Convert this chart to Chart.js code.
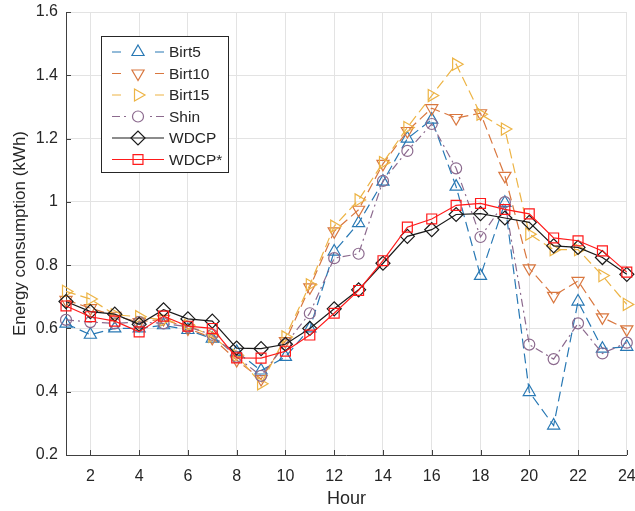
<!DOCTYPE html>
<html>
<head>
  <meta charset="UTF-8">
  <title>Energy consumption</title>
  <script src="https://cdn.jsdelivr.net/npm/chart.js"></script>
  <style>
    html, body { margin: 0; padding: 0; background: #fff; }
    #chart-container { width: 635px; height: 511px; }
  </style>
</head>
<body>
  <div id="chart-container">
    <canvas id="myChart"></canvas>
  </div>
  <script>
    // hours and tick labels
    const hours = [1,2,3,4,5,6,7,8,9,10,11,12,13,14,15,16,17,18,19,20,21,22,23,24];
    const xTicks = [2,4,6,8,10,12,14,16,18,20,22,24];
    const yTicks = [0.2,0.4,0.6,0.8,1.0,1.2,1.4,1.6];

    // series (kWh)
    const birt5  = [0.615,0.58,0.60,0.60,0.61,0.595,0.568,0.526,0.467,0.51,0.60,0.843,0.933,1.064,1.20,1.26,1.048,0.766,0.997,0.399,0.293,0.685,0.536,0.542];
    const birt10 = [0.69,0.664,0.64,0.62,0.63,0.60,0.57,0.50,0.44,0.56,0.73,0.907,0.975,1.12,1.224,1.296,1.265,1.28,1.082,0.79,0.703,0.75,0.635,0.597];
    const birt15 = [0.717,0.693,0.643,0.637,0.627,0.61,0.575,0.515,0.425,0.573,0.738,0.923,1.006,1.124,1.235,1.336,1.435,1.277,1.23,0.898,0.849,0.849,0.767,0.676];
    const shin   = [0.627,0.62,0.616,0.62,0.616,0.605,0.58,0.51,0.45,0.55,0.648,0.822,0.836,1.066,1.161,1.246,1.106,0.889,0.999,0.549,0.503,0.616,0.521,0.555];
    const wdcp   = [0.685,0.653,0.645,0.613,0.659,0.63,0.623,0.538,0.536,0.55,0.60,0.662,0.722,0.806,0.891,0.912,0.96,0.963,0.949,0.935,0.861,0.856,0.824,0.771];
    const wdcpS  = [0.671,0.637,0.623,0.589,0.639,0.607,0.60,0.507,0.506,0.528,0.579,0.648,0.72,0.814,0.92,0.946,0.989,0.995,0.976,0.962,0.886,0.877,0.845,0.778];

    const toXY = arr => hours.map((h, i) => ({ x: h, y: arr[i] }));

    function series(label, values, color, style, rot, radius, dash, legendDash, order) {
      return {
        label: label,
        data: toXY(values),
        borderColor: color,
        borderWidth: 1.2,
        borderDash: dash,
        legendDash: legendDash,
        pointStyle: style,
        pointRotation: rot,
        pointRadius: radius,
        pointBorderWidth: 1.2,
        pointBorderColor: color,
        pointBackgroundColor: 'rgba(0,0,0,0)',
        tension: 0,
        clip: false,
        order: order
      };
    }

    // inward tick marks (MATLAB style)
    const innerTicks = {
      id: 'innerTicks',
      afterDatasetsDraw(chart) {
        const { ctx, chartArea: a, scales: { x, y } } = chart;
        ctx.save();
        ctx.strokeStyle = '#404040';
        ctx.lineWidth = 1;
        ctx.beginPath();
        x.ticks.forEach(t => {
          const px = Math.round(x.getPixelForValue(t.value)) + 0.5;
          ctx.moveTo(px, a.bottom);
          ctx.lineTo(px, a.bottom - 5);
        });
        y.ticks.forEach(t => {
          const py = Math.round(y.getPixelForValue(t.value)) + 0.5;
          ctx.moveTo(a.left, py);
          ctx.lineTo(a.left + 5, py);
        });
        ctx.stroke();
        ctx.restore();
      }
    };

    // boxed legend inside the axes
    const boxLegend = {
      id: 'boxLegend',
      afterDraw(chart) {
        const ctx = chart.ctx;
        ctx.save();
        ctx.fillStyle = '#ffffff';
        ctx.fillRect(101.5, 36.5, 127, 136);
        ctx.strokeStyle = '#262626';
        ctx.lineWidth = 1;
        ctx.strokeRect(101.5, 36.5, 127, 136);
        chart.data.datasets.forEach((ds, i) => {
          const cy = 52 + i * 21.5;
          ctx.strokeStyle = ds.borderColor;
          ctx.lineWidth = ds.borderWidth;
          ctx.setLineDash(ds.legendDash || []);
          ctx.beginPath();
          ctx.moveTo(112, cy);
          ctx.lineTo(164, cy);
          ctx.stroke();
          ctx.setLineDash([]);
          ctx.fillStyle = 'rgba(0,0,0,0)';
          Chart.helpers.drawPoint(ctx, {
            pointStyle: ds.pointStyle,
            radius: ds.pointRadius,
            rotation: ds.pointRotation || 0,
            borderWidth: ds.pointBorderWidth
          }, 138, cy);
          ctx.fillStyle = '#262626';
          ctx.font = '15.5px "Liberation Sans", Arial, sans-serif';
          ctx.textBaseline = 'middle';
          ctx.textAlign = 'left';
          ctx.fillText(ds.label, 169, cy + 1);
        });
        ctx.restore();
      }
    };

    const data = {
      datasets: [
        series('Birt5',  birt5,  '#2878B4', 'triangle', 0,   7,   [10, 5],      [9, 34],        6),
        series('Birt10', birt10, '#D9773F', 'triangle', 180, 7,   [10, 5],      [9, 34],        5),
        series('Birt15', birt15, '#EDB445', 'triangle', 90,  7,   [10, 5],      [9, 34],        4),
        series('Shin',   shin,   '#8C6A8E', 'circle',   0,   5.5, [8, 4, 2, 4], [8, 4, 2, 24, 2, 4], 3),
        series('WDCP',   wdcp,   '#1a1a1a', 'rectRot',  0,   7,   [],           [],             2),
        series('WDCP*',  wdcpS,  '#FF1A1A', 'rect',     0,   7,   [],           [],             1)
      ]
    };

    const fam = '"Liberation Sans", Arial, sans-serif';
    const tickFont = { family: fam, size: 16 };

    const config = {
      type: 'line',
      data: data,
      options: {
        responsive: true,
        maintainAspectRatio: false,
        animation: false,
        devicePixelRatio: 1,
        layout: { padding: { top: 12, right: 8, left: 0, bottom: 0 } },
        plugins: {
          legend: { display: false },
          tooltip: { enabled: false }
        },
        scales: {
          x: {
            type: 'linear',
            min: 1,
            max: 24,
            afterBuildTicks: s => { s.ticks = xTicks.map(v => ({ value: v })); },
            afterFit: s => { s.height = 56; s.paddingLeft = 0; s.paddingRight = 0; },
            grid: { color: '#e3e3e3', drawTicks: false },
            border: { color: '#404040', width: 1 },
            ticks: { color: '#262626', font: tickFont, padding: 12, maxRotation: 0 },
            title: {
              display: true,
              text: 'Hour',
              color: '#262626',
              font: { family: fam, size: 18 },
              padding: { top: 1, bottom: 1 }
            }
          },
          y: {
            min: 0.2,
            max: 1.6,
            afterBuildTicks: s => { s.ticks = yTicks.map(v => ({ value: v })); },
            afterFit: s => { s.width = 66; s.paddingTop = 0; s.paddingBottom = 0; },
            grid: { color: '#e3e3e3', drawTicks: false },
            border: { color: '#404040', width: 1 },
            ticks: {
              color: '#262626',
              font: tickFont,
              padding: 8,
              callback: v => String(Math.round(v * 10) / 10)
            },
            title: {
              display: true,
              text: 'Energy consumption (kWh)',
              color: '#262626',
              font: { family: fam, size: 17 },
              padding: { top: 10, bottom: 4 }
            }
          }
        }
      },
      plugins: [innerTicks, boxLegend]
    };

    new Chart(document.getElementById('myChart'), config);
  </script>
</body>
</html>
